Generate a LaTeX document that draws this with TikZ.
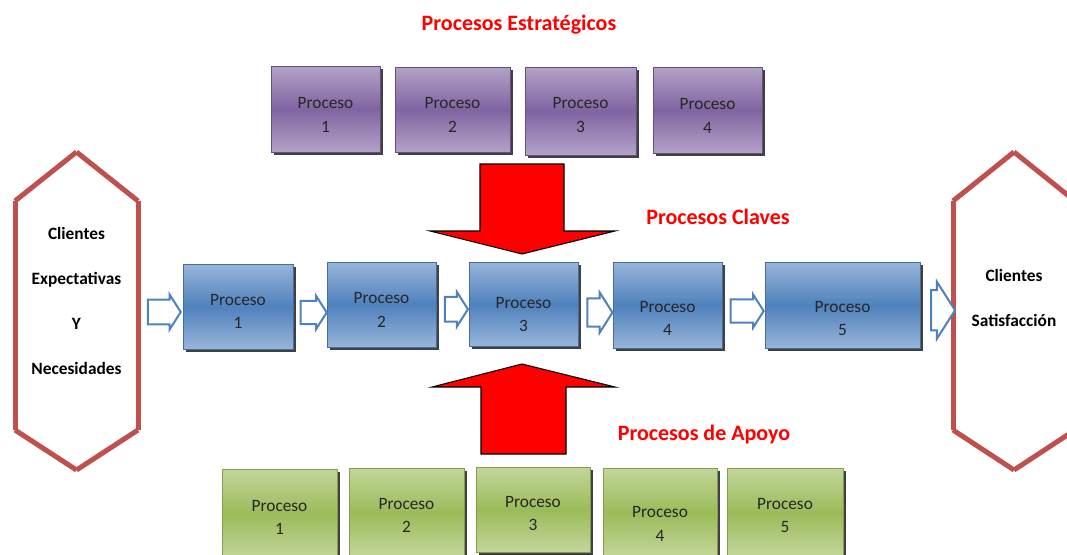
\documentclass[tikz,border=0pt]{standalone}
\usepackage{fontspec}
\setmainfont{Carlito}
\usepackage{xcolor}
\usetikzlibrary{shapes.arrows, shadows, calc}

\definecolor{moradoC}{HTML}{B3A2C7}
\definecolor{moradoO}{HTML}{8064A2}
\definecolor{azulC}{HTML}{98B5D9}
\definecolor{azulO}{HTML}{4F81BD}
\definecolor{verdeC}{HTML}{C3D69B}
\definecolor{verdeO}{HTML}{9BBB59}
\definecolor{rojoH}{HTML}{C0504D}

\tikzset{
    caja/.style={line width=0.5pt, inner sep=0pt,
        drop shadow={shadow xshift=2pt, shadow yshift=-2pt, fill=black!75, opacity=1}},
    morado/.style={caja, draw=moradoO!80!black, top color=moradoC, bottom color=moradoC, middle color=moradoO},
    azul/.style={caja, draw=azulO!85!black, top color=azulC, bottom color=azulC, middle color=azulO},
    verde/.style={caja, draw=verdeO!85!black, top color=verdeC, bottom color=verdeC, middle color=verdeO},
    texto/.style={align=center, text=black!85, font=\fontsize{13}{17.5}\selectfont},
    hextexto/.style={align=center, font=\bfseries\fontsize{13}{33.75}\selectfont},
    titulo/.style={text=red, font=\bfseries\fontsize{16.5}{18}\selectfont},
    hexa/.style={draw=rojoH, line width=3.75pt, line cap=butt},
    flecha/.style={single arrow, draw=azulO, line width=1.5pt, fill=white,
        inner xsep=0pt, inner ysep=4pt, single arrow head extend=2pt,
        single arrow tip angle=115},
    roja/.style={fill=red, draw=black, line width=0.8pt, line join=miter}
}

\begin{document}
\begin{tikzpicture}[x=0.75pt, y=-0.75pt]
    % Marco
    \clip (0,0) rectangle (1067,554);
    % Titoli
    \node[titulo] (tEst) at (519,25) {Procesos Estratégicos};
    \node[titulo] (tCla) at (718,217) {Procesos Claves};
    \node[titulo] (tApo) at (704,435) {Procesos de Apoyo};
    % Procesos estratégicos
    \foreach \n/\cx/\cy/\w/\h/\ty in {1/325.5/109/109/86/115, 2/452.5/109.5/115/85/115,
        3/580.5/111/111/88/115, 4/707.5/110/109/86/116}{
        \node[morado, minimum width=\w*0.75pt, minimum height=\h*0.75pt] (p\n) at (\cx,\cy) {};
        \node[texto] (tp\n) at (\cx,\ty) {Proceso\\\n};
    }
    % Procesos claves
    \foreach \n/\cx/\cy/\w/\h/\ty in {1/238/306.5/110/85/311.5, 2/381.5/304.5/109/85/310,
        3/523.5/304/109/84/314.5, 4/667.5/305/109/86/318.5, 5/842.5/305/155/86/318.5}{
        \node[azul, minimum width=\w*0.75pt, minimum height=\h*0.75pt] (b\n) at (\cx,\cy) {};
        \node[texto] (tb\n) at (\cx,\ty) {Proceso\\\n};
    }
    % Procesos de apoyo
    \foreach \n/\cx/\cy/\w/\h/\ty in {1/279.5/513.5/115/89/517.5, 2/406.5/512.5/115/89/515.5,
        3/533/509.5/114/85/513.5, 4/660/512.5/114/89/524, 5/785/512.5/116/89/515.5}{
        \node[verde, minimum width=\w*0.75pt, minimum height=\h*0.75pt] (g\n) at (\cx,\cy) {};
        \node[texto] (tg\n) at (\cx,\ty) {Proceso\\\n};
    }
    % Esagoni clienti
    \foreach \nom/\xa/\xb in {hi/15/138, hd/953/1075}{
        \pgfmathsetmacro{\xm}{(\xa+\xb)/2}
        \coordinate (\nom1) at (\xm,152);
        \coordinate (\nom2) at (\xb,201);
        \coordinate (\nom3) at (\xb,430);
        \coordinate (\nom4) at (\xm,470);
        \coordinate (\nom5) at (\xa,430);
        \coordinate (\nom6) at (\xa,201);
        \foreach \a/\b in {1/2,2/3,3/4,4/5,5/6,6/1}{
            \draw[hexa] (\nom\a) -- (\nom\b);
        }
    }
    \coordinate (hexI) at ($(hi2)!0.5!(hi3)$);
    \coordinate (hexD) at ($(hd5)!0.5!(hd6)$);
    \node[hextexto] (cliI) at (76.5,300.5) {Clientes\\Expectativas\\Y\\Necesidades};
    \node[hextexto] (cliD) at (1014,297.5) {Clientes\\Satisfacción};
    % Frecce vuote
    \foreach \de/\a/\l/\c/\dy [count=\i] in {hexI/b1.west/33/35/-1, b1.east/b2.west/26/33/-7,
        b2.east/b3.west/23/35/-5, b3.east/b4.west/25/40/-8, b4.east/b5.west/33/33/-6,
        b5.east/hexD/24/57/0}{
        \node[flecha, minimum height=\l*0.75pt, minimum width=\c*0.75pt, yshift=\dy*0.75pt]
            (f\i) at ($(\de)!0.5!(\a)$) {};
    }
    % Frecce rosse
    \draw[roja] (480,164) -- (564,164) -- (564,231) -- (615,231) -- (522,254)
        -- (430,231) -- (480,231) -- cycle;
    \draw[roja] (481,454) -- (566,454) -- (566,387) -- (615,387) -- (522,364)
        -- (432,387) -- (481,387) -- cycle;
\end{tikzpicture}
\end{document}
